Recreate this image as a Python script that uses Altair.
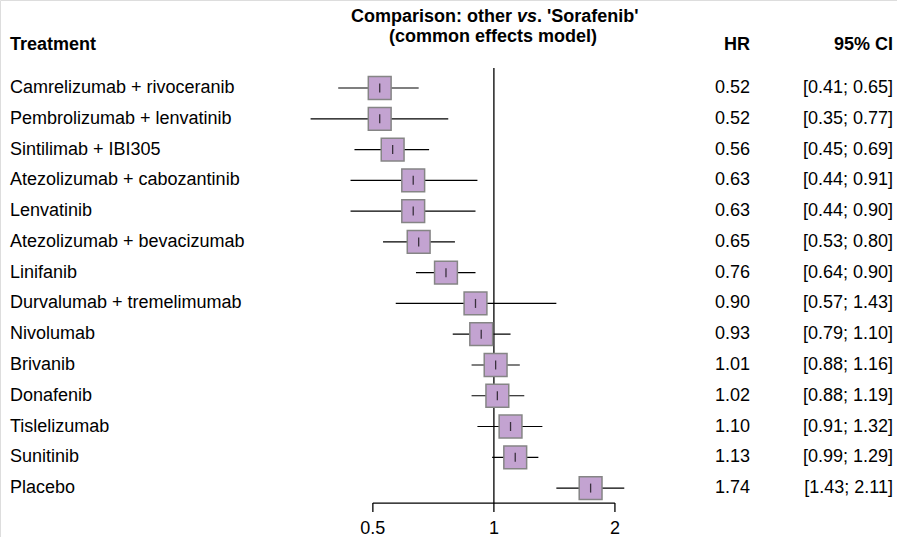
import altair as alt
import pandas as pd

treatments = ["Camrelizumab + rivoceranib", "Pembrolizumab + lenvatinib", "Sintilimab + IBI305",
              "Atezolizumab + cabozantinib", "Lenvatinib", "Atezolizumab + bevacizumab", "Linifanib",
              "Durvalumab + tremelimumab", "Nivolumab", "Brivanib", "Donafenib", "Tislelizumab",
              "Sunitinib", "Placebo"]
hr = [0.52, 0.52, 0.56, 0.63, 0.63, 0.65, 0.76, 0.90, 0.93, 1.01, 1.02, 1.10, 1.13, 1.74]
lower = [0.41, 0.35, 0.45, 0.44, 0.44, 0.53, 0.64, 0.57, 0.79, 0.88, 0.88, 0.91, 0.99, 1.43]
upper = [0.65, 0.77, 0.69, 0.91, 0.90, 0.80, 0.90, 1.43, 1.10, 1.16, 1.19, 1.32, 1.29, 2.11]
hr_labels = ["0.52", "0.52", "0.56", "0.63", "0.63", "0.65", "0.76", "0.90", "0.93", "1.01", "1.02",
             "1.10", "1.13", "1.74"]
ci_labels = ["[0.41; 0.65]", "[0.35; 0.77]", "[0.45; 0.69]", "[0.44; 0.91]", "[0.44; 0.90]",
             "[0.53; 0.80]", "[0.64; 0.90]", "[0.57; 1.43]", "[0.79; 1.10]", "[0.88; 1.16]",
             "[0.88; 1.19]", "[0.91; 1.32]", "[0.99; 1.29]", "[1.43; 2.11]"]
tick_values = [0.5, 1, 2]
tick_labels = ["0.5", "1", "2"]

df = pd.DataFrame({"row": list(range(len(treatments))), "treatment": treatments, "hr": hr,
                   "lower": lower, "upper": upper, "hr_label": hr_labels, "ci_label": ci_labels})
ticks = pd.DataFrame({"v": tick_values, "label": tick_labels})

FONT = "Liberation Sans"
BODY = 18
HEAD = 18
W, H = 897, 537
xs = alt.Scale(type="log", domain=[0.0591, 10.06], range=[0, W], nice=False, zero=False)
ys = alt.Scale(domain=[-2.86, 14.59], range=[0, H], nice=False, zero=False)

X = lambda f: alt.X(f, type="quantitative", scale=xs, axis=None)
Y = lambda f: alt.Y(f, type="quantitative", scale=ys, axis=None)

base = alt.Chart(df)

ci = base.mark_rule(color="black", strokeWidth=1.2).encode(x=X("lower"), x2="upper", y=Y("row"))
sq = base.mark_square(size=520, fill="#C3A3D1", stroke="#858585", strokeWidth=1.5, opacity=1).encode(
    x=X("hr"), y=Y("row"))
ctick = base.mark_tick(orient="vertical", size=9, thickness=1.3, color="black").encode(x=X("hr"), y=Y("row"))

ref = alt.Chart(pd.DataFrame({"v": [1.0], "y1": [-0.65], "y2": [13.49]})).mark_rule(
    color="black", strokeWidth=1.3).encode(x=X("v"), y=Y("y1"), y2="y2")

axline = alt.Chart(pd.DataFrame({"a": [0.5], "b": [2.0], "y": [13.49]})).mark_rule(
    color="black", strokeWidth=1.3).encode(x=X("a"), x2="b", y=Y("y"))
axticks = alt.Chart(ticks).mark_rule(color="black", strokeWidth=1.3).encode(
    x=X("v"), y=alt.value(503), y2=alt.value(512))
axlabels = alt.Chart(ticks).mark_text(font=FONT, fontSize=18, baseline="alphabetic", align="center").encode(
    x=X("v"), y=alt.value(534), text="label:N")

names = base.mark_text(font=FONT, fontSize=BODY, align="left", baseline="middle").encode(
    x=alt.value(10), y=Y("row"), text="treatment:N")
hrt = base.mark_text(font=FONT, fontSize=BODY, align="right", baseline="middle").encode(
    x=alt.value(750), y=Y("row"), text="hr_label:N")
cit = base.mark_text(font=FONT, fontSize=BODY, align="right", baseline="middle").encode(
    x=alt.value(893), y=Y("row"), text="ci_label:N")

h1 = alt.Chart(pd.DataFrame({"t": ["Treatment"]})).mark_text(
    font=FONT, fontSize=HEAD, fontWeight="bold", align="left", baseline="alphabetic").encode(
    x=alt.value(10), y=alt.value(49.5), text="t:N")
h2 = alt.Chart(pd.DataFrame({"t": ["HR"]})).mark_text(
    font=FONT, fontSize=HEAD, fontWeight="bold", align="right", baseline="alphabetic").encode(
    x=alt.value(750), y=alt.value(49.5), text="t:N")
h3 = alt.Chart(pd.DataFrame({"t": ["95% CI"]})).mark_text(
    font=FONT, fontSize=HEAD, fontWeight="bold", align="right", baseline="alphabetic").encode(
    x=alt.value(893), y=alt.value(49.5), text="t:N")

t1a = alt.Chart(pd.DataFrame({"t": ["Comparison: other"]})).mark_text(
    font=FONT, fontSize=HEAD, fontWeight="bold", align="left", baseline="alphabetic").encode(
    x=alt.value(351), y=alt.value(22), text="t:N")
t1b = alt.Chart(pd.DataFrame({"t": ["vs"]})).mark_text(
    font=FONT, fontSize=HEAD, fontWeight="bold", fontStyle="italic", align="left",
    baseline="alphabetic").encode(x=alt.value(517), y=alt.value(22), text="t:N")
t1c = alt.Chart(pd.DataFrame({"t": [". 'Sorafenib'"]})).mark_text(
    font=FONT, fontSize=HEAD, fontWeight="bold", align="left", baseline="alphabetic").encode(
    x=alt.value(537), y=alt.value(22), text="t:N")
t2 = alt.Chart(pd.DataFrame({"t": ["(common effects model)"]})).mark_text(
    font=FONT, fontSize=HEAD, fontWeight="bold", align="center", baseline="alphabetic").encode(
    x=alt.value(493), y=alt.value(42), text="t:N")

chart = alt.layer(ref, ci, sq, ctick, axline, axticks, axlabels, names, hrt, cit, h1, h2, h3,
                  t1a, t1b, t1c, t2).properties(
    width=W, height=H, autosize=alt.AutoSizeParams(type="none"), padding=0
).configure_view(stroke=None).configure(background="white")

chart.save("out.html", embed_options={"renderer": "svg", "actions": False})
